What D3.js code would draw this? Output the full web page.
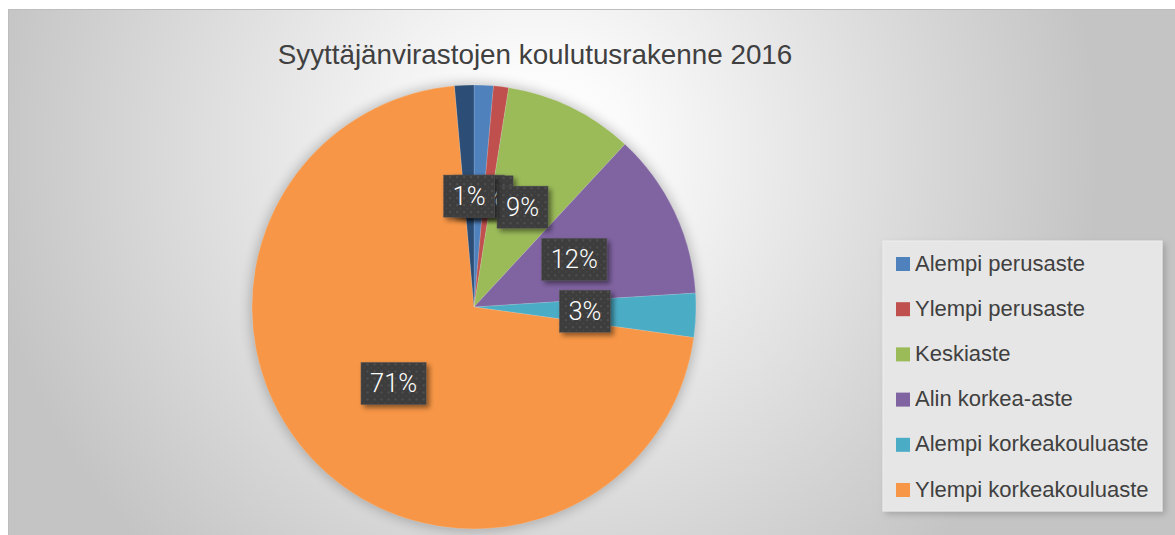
<!DOCTYPE html>
<html>
<head>
<meta charset="utf-8">
<script src="https://cdn.jsdelivr.net/npm/d3@7"></script>
<style>
  body { margin: 0; background: #fff; }
  svg { display: block; }
</style>
</head>
<body>
<svg id="chart"></svg>
<script>
// share of staff by education level (percent)
const categories = ["Alempi perusaste", "Ylempi perusaste", "Keskiaste", "Alin korkea-aste",
                    "Alempi korkeakouluaste", "Ylempi korkeakouluaste", ""];
const values = [1.4, 1.1, 9.4, 12.1, 3.2, 71.4, 1.4];
const colors = ["#4f81bd", "#c0504d", "#9bbb59", "#8064a2", "#4bacc6", "#f79646", "#2c4d75"];
const title = "Syyttäjänvirastojen koulutusrakenne 2016";

const width = 1175, height = 535;
const cx = 474, cy = 307, radius = 222;

const data = categories.map((c, i) => ({ name: c, value: values[i], color: colors[i] }));
const total = d3.sum(values);

const svg = d3.select("#chart")
    .attr("width", width)
    .attr("height", height)
    .style("font-family", "'Liberation Sans', Arial, sans-serif");

const defs = svg.append("defs");

// background: soft grey radial gradient, lightest around the title
const bg = defs.append("radialGradient")
    .attr("id", "bgGrad")
    .attr("gradientUnits", "userSpaceOnUse")
    .attr("cx", 540).attr("cy", 150).attr("r", 560);
bg.append("stop").attr("offset", 0).attr("stop-color", "#ffffff");
bg.append("stop").attr("offset", 0.15).attr("stop-color", "#fbfbfb");
bg.append("stop").attr("offset", 1).attr("stop-color", "#c4c4c4");

const glow = defs.append("filter").attr("id", "pieGlow")
    .attr("x", "-20%").attr("y", "-20%").attr("width", "140%").attr("height", "140%");
glow.append("feGaussianBlur").attr("stdDeviation", 6);

const boxShadow = defs.append("filter").attr("id", "boxShadow")
    .attr("x", "-30%").attr("y", "-30%").attr("width", "170%").attr("height", "170%");
boxShadow.append("feDropShadow")
    .attr("dx", 3).attr("dy", 3).attr("stdDeviation", 2.5)
    .attr("flood-color", "#000").attr("flood-opacity", 0.45);

const legShadow = defs.append("filter").attr("id", "legShadow")
    .attr("x", "-10%").attr("y", "-10%").attr("width", "125%").attr("height", "125%");
legShadow.append("feDropShadow")
    .attr("dx", 3).attr("dy", 3).attr("stdDeviation", 3)
    .attr("flood-color", "#000").attr("flood-opacity", 0.18);

// dotted texture on the data label boxes
const dots = defs.append("pattern")
    .attr("id", "dots")
    .attr("patternUnits", "userSpaceOnUse")
    .attr("width", 7).attr("height", 7);
dots.append("rect").attr("width", 7).attr("height", 7).attr("fill", "#3d3d3d");
dots.append("circle").attr("cx", 2).attr("cy", 2).attr("r", 0.9).attr("fill", "#595959");
dots.append("circle").attr("cx", 5.5).attr("cy", 5.5).attr("r", 0.7).attr("fill", "#4d4d4d");

// chart frame
svg.append("rect")
    .attr("x", 8.5).attr("y", 9.5)
    .attr("width", width).attr("height", height)
    .attr("fill", "url(#bgGrad)")
    .attr("stroke", "#bdbdbd");

svg.append("text")
    .attr("x", 535).attr("y", 64)
    .attr("text-anchor", "middle")
    .attr("fill", "#404040")
    .style("font-size", "27.8px")
    .text(title);

// pie
const pie = d3.pie().sort(null).value(d => d.value);
const arcs = pie(data);
const arc = d3.arc().innerRadius(0).outerRadius(radius);

const g = svg.append("g").attr("transform", `translate(${cx},${cy})`);

g.append("circle")
    .attr("r", radius + 2)
    .attr("fill", "#000")
    .attr("opacity", 0.22)
    .attr("filter", "url(#pieGlow)");

g.selectAll("path.slice")
    .data(arcs)
    .enter().append("path")
    .attr("class", "slice")
    .attr("d", arc)
    .attr("fill", d => d.data.color)
    .attr("stroke", "rgba(255,255,255,0.25)")
    .attr("stroke-width", 0.6);

// data labels, drawn in series order so later ones sit on top (as in the original)
const labels = g.selectAll("g.label")
    .data(arcs)
    .enter().append("g")
    .attr("class", "label")
    .attr("transform", d => `translate(${arc.centroid(d)})`);

labels.each(function(d) {
    const lg = d3.select(this);
    const rect = lg.append("rect").attr("filter", "url(#boxShadow)");
    const txt = lg.append("text")
        .attr("text-anchor", "middle")
        .attr("y", 9)
        .attr("fill", "#fff")
        .style("font-family", "Roboto, 'Open Sans', sans-serif")
        .style("font-weight", 300)
        .style("font-size", "25.5px")
        .text(Math.round(d.data.value / total * 100) + "%");
    const w = txt.node().getComputedTextLength() + 18;
    const h = 42;
    rect.attr("x", -w / 2).attr("y", -h / 2)
        .attr("width", w).attr("height", h)
        .attr("fill", "url(#dots)")
        .attr("stroke", "#555").attr("stroke-width", 0.5);
});

// legend
const legendData = data.filter(d => d.name !== "");
const legend = svg.append("g");
legend.append("rect")
    .attr("x", 883).attr("y", 241)
    .attr("width", 279).attr("height", 270)
    .attr("fill", "#e6e6e6")
    .attr("stroke", "#ededed")
    .attr("filter", "url(#legShadow)");

const rowStep = 45.2;
const items = legend.selectAll("g.item")
    .data(legendData)
    .enter().append("g")
    .attr("class", "item")
    .attr("transform", (d, i) => `translate(896,${257 + i * rowStep})`);

items.append("rect")
    .attr("width", 14).attr("height", 14)
    .attr("fill", d => d.color);

items.append("text")
    .attr("x", 19).attr("y", 13.5)
    .attr("fill", "#404040")
    .style("font-size", "22px")
    .text(d => d.name);
</script>
</body>
</html>
